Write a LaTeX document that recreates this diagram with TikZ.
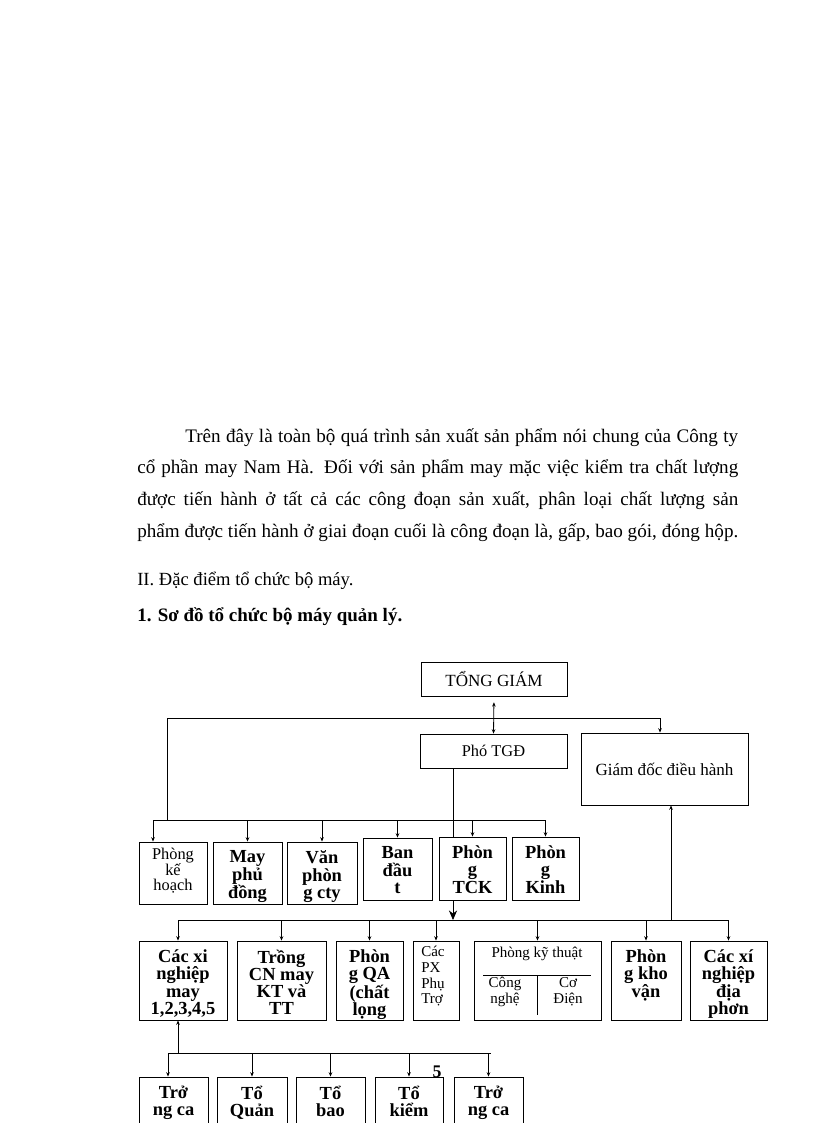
\documentclass[tikz,border=0pt]{standalone}
\usepackage{fontspec}
\setmainfont{Liberation Serif}
\usetikzlibrary{arrows.meta,positioning}

\def\px{0.2574mm}

\tikzset{
  box/.style 2 args={draw, line width=0.6pt, inner sep=0pt,
    minimum width=#1*\px, minimum height=#2*\px},
  btxt/.style={font=\bfseries\fontsize{13.5}{12.6}\selectfont, align=center, inner sep=0pt, anchor=north},
  ntxt/.style={font=\fontsize{11}{11.5}\selectfont, align=center, inner sep=0pt},
  ptxt/.style={anchor=base west, inner sep=0pt, font=\fontsize{14}{16}\selectfont},
  ln/.style={line width=0.6pt},
  arr/.style={ln, -{Stealth[length=3.2pt,width=2.6pt]}},
  arrtwo/.style={ln, {Stealth[length=3.2pt,width=2.6pt]}-{Stealth[length=3.2pt,width=2.6pt]}},
  arrbig/.style={ln, -{Stealth[length=7pt,width=6pt]}},
}

\begin{document}
\begin{tikzpicture}[x=\px, y=-\px]
  \useasboundingbox (0,0) rectangle (816,1123);
  \clip (0,0) rectangle (816,1123);

  % text above the chart
  \node[ptxt] (par1) at (185,442)
    {\makebox[142.3mm][s]{Trên đây là toàn bộ quá trình sản xuất sản phẩm nói chung của Công ty}};
  \node[ptxt] (par2) at (137,473)
    {\makebox[154.7mm][s]{cổ phần may Nam Hà. Đối với sản phẩm may mặc việc kiểm tra chất lượng}};
  \node[ptxt] (par3) at (137,505)
    {\makebox[154.7mm][s]{được tiến hành ở tất cả các công đoạn sản xuất, phân loại chất lượng sản}};
  \node[ptxt] (par4) at (137,537)
    {\makebox[154.7mm][s]{phẩm được tiến hành ở giai đoạn cuối là công đoạn là, gấp, bao gói, đóng hộp.}};
  \node[ptxt, font=\fontsize{13.6}{15}\selectfont] (sec) at (137,585)
    {II. Đặc điểm tổ chức bộ máy.};
  \node[ptxt, font=\bfseries\fontsize{13.9}{16}\selectfont] (sub) at (137,621)
    {1. Sơ đồ tổ chức bộ máy quản lý.};

  % top level
  \node[box={146}{34}, font=\fontsize{12.5}{14}\selectfont] (tgd) at (494,679) {TỔNG GIÁM};
  \node[box={147}{34}, font=\fontsize{12}{14}\selectfont] (pho) at (493.5,751) {Phó TGĐ};
  \node[box={167}{72}, font=\fontsize{12.5}{14}\selectfont] (gd) at (664.5,769) {Giám đốc điều hành};

  % second row
  \node[box={68}{62}] (pkh) at (173,873) {};
  \node[box={69}{62}] (may) at (247.5,873) {};
  \node[box={70}{62}] (vp) at (322,873) {};
  \node[box={69}{62}] (ban) at (397.5,869) {};
  \node[box={67}{63}] (tck) at (472.5,868.5) {};
  \node[box={67}{63}] (kinh) at (545.5,868.5) {};
  \node[ntxt, anchor=north, font=\fontsize{12}{11.5}\selectfont, below=1.6mm of pkh.north] (pkht) {Phòng\\kế\\hoạch};
  \node[btxt, below=2.3mm of may.north] (mayt) {May\\phủ\\đồng};
  \node[btxt, below=2.3mm of vp.north] (vpt) {Văn\\phòn\\g cty};
  \node[btxt, below=2.3mm of ban.north] (bant) {Ban\\đầu\\t};
  \node[btxt, below=2.3mm of tck.north] (tckt) {Phòn\\g\\TCK};
  \node[btxt, below=2.3mm of kinh.north] (kinht) {Phòn\\g\\Kinh};

  % third row
  \node[box={88}{79}] (xn) at (183,980.5) {};
  \node[box={89}{79}] (tr) at (281.5,980.5) {};
  \node[box={67}{79}] (qa) at (369.5,980.5) {};
  \node[box={46}{79}] (px) at (436,980.5) {};
  \node[box={127}{79}] (kt) at (537.5,980.5) {};
  \node[box={70}{79}] (kho) at (646,980.5) {};
  \node[box={77}{79}] (dp) at (728.5,980.5) {};
  \node[btxt, below=2.3mm of xn.north] (xnt) {Các xi\\nghiệp\\may\\1,2,3,4,5};
  \node[btxt, below=2.3mm of tr.north] (trt) {Trồng\\CN may\\KT và\\TT};
  \node[btxt, below=2.3mm of qa.north] (qat) {Phòn\\g QA\\(chất\\lọng};
  \node[ntxt, anchor=north west, align=left] (pxt) at (421,946) {Các\\PX\\Phụ\\Trợ};
  \node[ntxt] (ktt) at (537,954) {Phòng kỹ thuật};
  \node[ntxt] (ktcn) at (505,992) {Công\\nghệ};
  \node[ntxt] (ktcd) at (568,992) {Cơ\\Điện};
  \draw[ln] (483,975) -- (591,975);
  \draw[ln] (537,975) -- (537,1015);
  \node[btxt, below=2.3mm of kho.north] (khot) {Phòn\\g kho\\vận};
  \node[btxt, below=2.3mm of dp.north] (dpt) {Các xí\\nghiệp\\địa\\phơn};

  % bottom row
  \node[box={69}{82}] (c1) at (173.5,1118) {};
  \node[box={70}{82}] (c2) at (252,1118) {};
  \node[box={69}{82}] (c3) at (330.5,1118) {};
  \node[box={68}{82}] (c4) at (409,1118) {};
  \node[box={69}{82}] (c5) at (488.5,1118) {};
  \node[btxt, below=2.4mm of c1.north] (c1t) {Trở\\ng ca};
  \node[btxt, below=2.4mm of c2.north] (c2t) {Tổ\\Quản};
  \node[btxt, below=2.4mm of c3.north] (c3t) {Tổ\\bao};
  \node[btxt, below=2.4mm of c4.north] (c4t) {Tổ\\kiểm};
  \node[btxt, below=2.4mm of c5.north] (c5t) {Trở\\ng ca};
  \node[anchor=base, inner sep=0pt, font=\bfseries\fontsize{13}{15}\selectfont] (pgno) at (437,1077) {5};

  % connectors
  \coordinate (t1w) at (167,718);
  \coordinate (t1e) at (660,718);
  \coordinate (b2w) at (153,820);
  \coordinate (b2e) at (546,820);
  \coordinate (b3w) at (178,920);
  \coordinate (b3e) at (729,920);
  \coordinate (b3p) at (453,920);
  \coordinate (b3g) at (671,920);
  \coordinate (b4w) at (168,1053);
  \coordinate (b4e) at (491,1053);
  \coordinate (b4x) at (178,1053);

  \draw[arrtwo, shorten <=1.5mm] (tgd.south) -- (pho.north);
  \draw[ln] (t1w) -- (t1e);
  \draw[arr] (t1e) -- (t1e |- gd.north);
  \draw[ln] (t1w) -- (t1w |- b2w);
  \draw[ln] (b2w) -- (b2e);
  \draw[arr] (b2w) -- (b2w |- pkh.north);
  \foreach \n in {may,vp,ban,tck,kinh}
    \draw[arr] (\n.north |- b2w) -- (\n.north);
  \draw[ln] (pho.south -| b3p) -- (tck.north -| b3p);
  \draw[arrbig] (tck.south -| b3p) -- (b3p);

  \draw[ln] (b3w) -- (b3e);
  \draw[arr] (b3g) -- (b3g |- gd.south);
  \draw[arr] (b3w) -- (b3w |- xn.north);
  \foreach \n in {tr,qa,px,kt,kho,dp}
    \draw[arr] (\n.north |- b3w) -- (\n.north);

  \draw[ln] (b4w) -- (b4e);
  \draw[arr] (b4x) -- (b4x |- xn.south);
  \draw[arr] (b4w) -- (b4w |- c1.north);
  \foreach \n in {c2,c3,c4,c5}
    \draw[arr] (\n.north |- b4w) -- (\n.north);
\end{tikzpicture}
\end{document}
